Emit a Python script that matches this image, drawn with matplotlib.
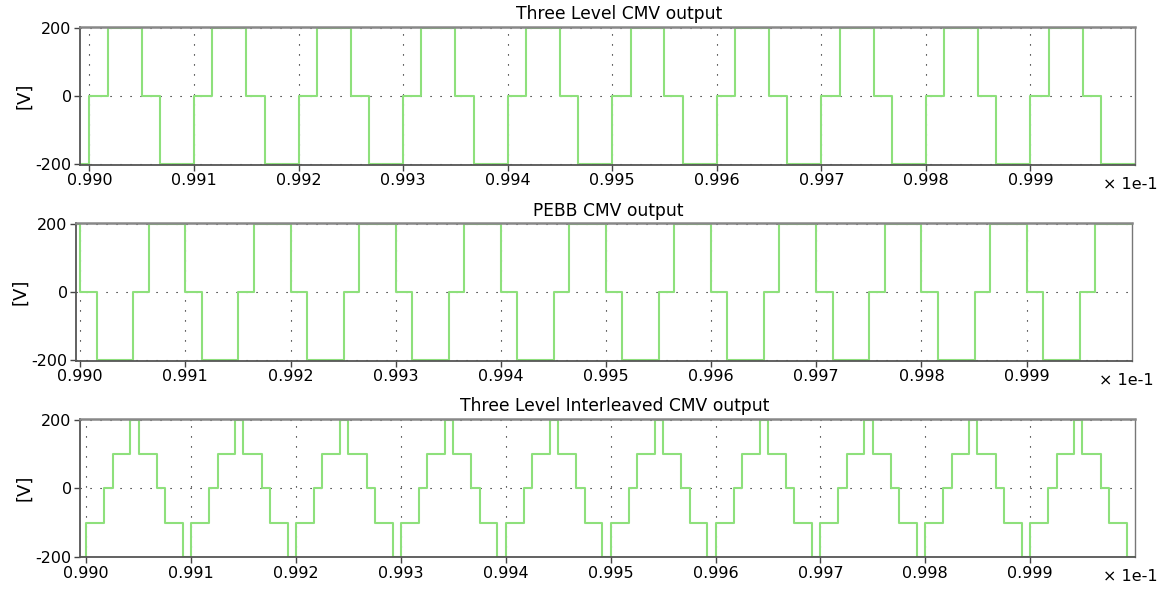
import matplotlib
matplotlib.use("Agg")
import matplotlib.pyplot as plt

plt.rcParams["axes.unicode_minus"] = False

# time axis in units of 1e-1 s (as on the tick labels), voltages in V
three_level_t = [
    0.98991,
    0.99000, 0.990175, 0.99050, 0.990675,
    0.99100, 0.991175, 0.99150, 0.991675,
    0.99200, 0.992175, 0.99250, 0.992675,
    0.99300, 0.993175, 0.99350, 0.993675,
    0.99400, 0.994175, 0.99450, 0.994675,
    0.99500, 0.995175, 0.99550, 0.995675,
    0.99600, 0.996175, 0.99650, 0.996675,
    0.99700, 0.997175, 0.99750, 0.997675,
    0.99800, 0.998175, 0.99850, 0.998675,
    0.99900, 0.999175, 0.99950, 0.999675,
    1.00000,
]
three_level_v = [
    -200,
    0, 200, 0, -200,
    0, 200, 0, -200,
    0, 200, 0, -200,
    0, 200, 0, -200,
    0, 200, 0, -200,
    0, 200, 0, -200,
    0, 200, 0, -200,
    0, 200, 0, -200,
    0, 200, 0, -200,
    0, 200, 0, -200,
    -200,
]

pebb_t = [
    0.98996,
    0.99000, 0.990155, 0.990505, 0.99065,
    0.99100, 0.991155, 0.991505, 0.99165,
    0.99200, 0.992155, 0.992505, 0.99265,
    0.99300, 0.993155, 0.993505, 0.99365,
    0.99400, 0.994155, 0.994505, 0.99465,
    0.99500, 0.995155, 0.995505, 0.99565,
    0.99600, 0.996155, 0.996505, 0.99665,
    0.99700, 0.997155, 0.997505, 0.99765,
    0.99800, 0.998155, 0.998505, 0.99865,
    0.99900, 0.999155, 0.999505, 0.99965,
    1.00000,
]
pebb_v = [
    200,
    0, -200, 0, 200,
    0, -200, 0, 200,
    0, -200, 0, 200,
    0, -200, 0, 200,
    0, -200, 0, 200,
    0, -200, 0, 200,
    0, -200, 0, 200,
    0, -200, 0, 200,
    0, -200, 0, 200,
    0, -200, 0, 200,
    200,
]

inter_t = [
    0.98994,
    0.99000, 0.990172, 0.990252, 0.99042, 0.990498, 0.990673, 0.990752, 0.99092,
    0.99100, 0.991172, 0.991252, 0.99142, 0.991498, 0.991673, 0.991752, 0.99192,
    0.99200, 0.992172, 0.992252, 0.99242, 0.992498, 0.992673, 0.992752, 0.99292,
    0.99300, 0.993172, 0.993252, 0.99342, 0.993498, 0.993673, 0.993752, 0.99392,
    0.99400, 0.994172, 0.994252, 0.99442, 0.994498, 0.994673, 0.994752, 0.99492,
    0.99500, 0.995172, 0.995252, 0.99542, 0.995498, 0.995673, 0.995752, 0.99592,
    0.99600, 0.996172, 0.996252, 0.99642, 0.996498, 0.996673, 0.996752, 0.99692,
    0.99700, 0.997172, 0.997252, 0.99742, 0.997498, 0.997673, 0.997752, 0.99792,
    0.99800, 0.998172, 0.998252, 0.99842, 0.998498, 0.998673, 0.998752, 0.99892,
    0.99900, 0.999172, 0.999252, 0.99942, 0.999498, 0.999673, 0.999752, 0.99992,
    1.00000,
]
inter_v = [
    -200,
    -100, 0, 100, 200, 100, 0, -100, -200,
    -100, 0, 100, 200, 100, 0, -100, -200,
    -100, 0, 100, 200, 100, 0, -100, -200,
    -100, 0, 100, 200, 100, 0, -100, -200,
    -100, 0, 100, 200, 100, 0, -100, -200,
    -100, 0, 100, 200, 100, 0, -100, -200,
    -100, 0, 100, 200, 100, 0, -100, -200,
    -100, 0, 100, 200, 100, 0, -100, -200,
    -100, 0, 100, 200, 100, 0, -100, -200,
    -100, 0, 100, 200, 100, 0, -100, -200,
    -200,
]

x_ticks = [0.990, 0.991, 0.992, 0.993, 0.994, 0.995, 0.996, 0.997, 0.998, 0.999]
y_ticks = [-200, 0, 200]
titles = ["Three Level CMV output", "PEBB CMV output", "Three Level Interleaved CMV output"]

W, H = 1162, 589
fig = plt.figure(figsize=(W / 100, H / 100), dpi=100)

# axes boxes in pixels: left, top, right, bottom
boxes = [(80, 27.3, 1135, 164.7), (76, 223.3, 1131.7, 361), (80, 419.3, 1135, 557.3)]
title_pos = [(619, 14), (608, 211), (615, 406)]
series = [(three_level_t, three_level_v), (pebb_t, pebb_v), (inter_t, inter_v)]

for (l, t, r, b), (tx, ty), (xs, ys), title in zip(boxes, title_pos, series, titles):
    ax = fig.add_axes([l / W, 1 - b / H, (r - l) / W, (b - t) / H])
    ax.step(xs, ys, where="post", color="#8ee07c", lw=1.5)
    ax.set_xlim(xs[0], xs[-1])
    ax.set_ylim(-202, 203)
    ax.set_xticks(x_ticks)
    ax.set_xticklabels(["%.3f" % v for v in x_ticks])
    ax.set_yticks(y_ticks)
    ax.tick_params(labelsize=11.5, length=4, width=1, color="#444444", pad=2)
    ax.grid(True, color="black", linestyle=(0, (1, 8)), lw=0.8)
    for side in ["left", "bottom"]:
        ax.spines[side].set_color("#555555")
        ax.spines[side].set_linewidth(1.3)
    ax.spines["top"].set_color("#888888")
    ax.spines["top"].set_linewidth(1.8)
    ax.spines["right"].set_color("#777777")
    ax.spines["right"].set_linewidth(1.0)
    ax.set_ylabel("[V]", fontsize=13)
    ax.yaxis.set_label_coords(-0.0445, 0.5)
    fig.text(tx / W, 1 - ty / H, title, fontsize=12.3, ha="center", va="center")
    fig.text((1103 - (80 - l)) / W, 1 - (b + 19.5) / H, "× 1e-1",
             fontsize=11.5, ha="left", va="center")

fig.savefig("out.png", dpi=100)
